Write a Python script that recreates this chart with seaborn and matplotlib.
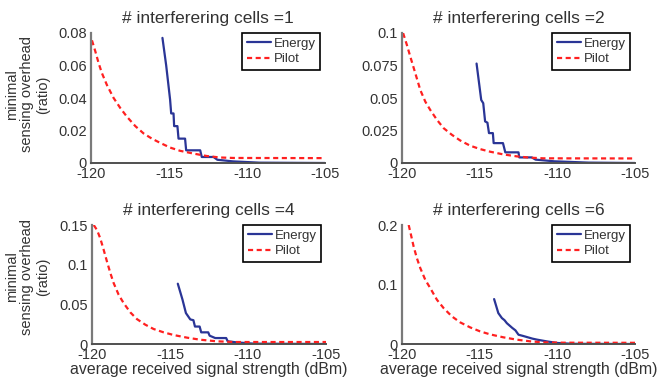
import numpy as np
import pandas as pd
import seaborn as sns
import matplotlib.pyplot as plt

# number of interfering cells per panel
cells = [1, 2, 4, 6]

# Pilot curves (x in dBm, y ratio)
pilot_x1 = [-119.94, -119.72, -119.51, -119.30, -118.98, -118.55, -118.12, -117.70, -117.16, -116.63,
            -116.10, -115.57, -114.93, -114.29, -113.43, -112.58, -111.73, -110.87, -105.0]
pilot_y1 = [0.0755, 0.0686, 0.0614, 0.0553, 0.0480, 0.0400, 0.0338, 0.0285, 0.0227, 0.0182,
            0.0150, 0.0124, 0.0095, 0.0075, 0.0058, 0.0043, 0.0034, 0.0031, 0.0030]
pilot_x2 = [-119.93, -119.68, -119.46, -119.14, -118.82, -118.50, -118.18, -117.75, -117.32, -116.79,
            -116.25, -115.61, -114.97, -114.33, -113.47, -112.61, -111.76, -110.90, -105.0]
pilot_y2 = [0.1000, 0.0906, 0.0816, 0.0689, 0.0561, 0.0472, 0.0408, 0.0332, 0.0268, 0.0217,
            0.0173, 0.0133, 0.0107, 0.0087, 0.0066, 0.0051, 0.0041, 0.0036, 0.0035]
pilot_x4 = [-119.89, -119.68, -119.47, -119.25, -119.04, -118.82, -118.61, -118.29, -117.97, -117.54,
            -117.12, -116.58, -116.05, -115.41, -114.76, -113.91, -113.06, -111.99, -110.92, -105.0]
pilot_y4 = [0.150, 0.1437, 0.1332, 0.1186, 0.1039, 0.0892, 0.0767, 0.0620, 0.0515, 0.0398,
            0.0314, 0.0243, 0.0189, 0.0147, 0.0113, 0.0080, 0.0054, 0.0034, 0.0025, 0.0025]
pilot_x6 = [-119.57, -119.42, -119.25, -119.04, -118.82, -118.50, -118.18, -117.75, -117.32, -116.79,
            -116.25, -115.61, -114.97, -114.33, -113.47, -112.61, -111.76, -110.90, -109.61, -105.0]
pilot_y6 = [0.200, 0.1832, 0.1637, 0.1441, 0.1274, 0.1078, 0.0939, 0.0743, 0.0603, 0.0464,
            0.0363, 0.0279, 0.0212, 0.0162, 0.0112, 0.0073, 0.0045, 0.0028, 0.0022, 0.0020]

# Energy curves (step-like)
energy_x1 = [-115.42, -115.18, -114.93, -114.86, -114.71, -114.67, -114.46, -114.39, -113.97,
             -113.9, -113.0, -112.9, -112.15, -111.9, -110.9, -109.2, -105.0]
energy_y1 = [0.077, 0.060, 0.039, 0.0305, 0.0305, 0.0227, 0.0227, 0.015, 0.015,
             0.0078, 0.0078, 0.0037, 0.0037, 0.002, 0.001, 0.0002, 0.0]
energy_x2 = [-115.2, -114.9, -114.77, -114.65, -114.5, -114.4, -114.15, -114.1, -113.5,
             -113.35, -112.5, -112.45, -111.65, -111.4, -110.2, -108.0, -105.0]
energy_y2 = [0.0765, 0.0485, 0.046, 0.032, 0.031, 0.023, 0.023, 0.0153, 0.0153,
             0.0082, 0.0082, 0.0043, 0.0043, 0.0026, 0.0013, 0.0003, 0.0]
energy_x4 = [-114.5, -114.2, -113.98, -113.7, -113.5, -113.4, -113.1, -113.0, -112.55,
             -112.46, -112.1, -111.4, -111.3, -110.7, -109.6, -105.0]
energy_y4 = [0.076, 0.056, 0.039, 0.031, 0.030, 0.022, 0.022, 0.0147, 0.0147,
             0.0105, 0.0075, 0.0075, 0.0034, 0.002, 0.0004, 0.0]
energy_x6 = [-114.07, -113.8, -113.57, -113.4, -113.25, -112.9, -112.7, -112.5, -112.2, -111.96,
             -111.6, -111.3, -110.7, -110.0, -109.0, -105.0]
energy_y6 = [0.0755, 0.052, 0.0436, 0.040, 0.035, 0.027, 0.023, 0.0156, 0.0135, 0.0117,
             0.009, 0.0073, 0.0045, 0.0017, 0.0003, 0.0]

pilot_x = [pilot_x1, pilot_x2, pilot_x4, pilot_x6]
pilot_y = [pilot_y1, pilot_y2, pilot_y4, pilot_y6]
energy_x = [energy_x1, energy_x2, energy_x4, energy_x6]
energy_y = [energy_y1, energy_y2, energy_y4, energy_y6]

y_max = [0.08, 0.1, 0.15, 0.2]
y_ticks = [[0, 0.02, 0.04, 0.06, 0.08],
           [0, 0.025, 0.05, 0.075, 0.1],
           [0, 0.05, 0.1, 0.15],
           [0, 0.1, 0.2]]
y_ticklabels = [['0', '0.02', '0.04', '0.06', '0.08'],
                ['0', '0.025', '0.05', '0.075', '0.1'],
                ['0', '0.05', '0.1', '0.15'],
                ['0', '0.1', '0.2']]
x_ticks = [-120, -115, -110, -105]

sns.set_style("white")
plt.rcParams['font.family'] = ['Liberation Sans', 'DejaVu Sans']
text_col = '#333333'

fig = plt.figure(figsize=(6.71, 3.79), dpi=100)
W, H = 671, 379
boxes = [(91, 33, 325, 163), (402, 33, 635, 163), (92, 225, 326, 344), (402, 225, 635, 344)]
ylab_y = [0.527, None, 0.563, None]

for i, (l, t, r, b) in enumerate(boxes):
    ax = fig.add_axes([l / W, 1 - b / H, (r - l) / W, (b - t) / H])
    sns.lineplot(x=energy_x[i], y=energy_y[i], ax=ax, color='#2a3596', lw=1.6,
                 label='Energy', estimator=None, sort=False)
    sns.lineplot(x=pilot_x[i], y=pilot_y[i], ax=ax, color='#ff2020', lw=1.6,
                 linestyle=(0, (2.3, 1.6)), label='Pilot', estimator=None, sort=False)
    ax.set_xlim(-120, -105)
    ax.set_ylim(0, y_max[i])
    ax.set_xticks(x_ticks)
    ax.set_xticklabels([str(v) for v in x_ticks])
    ax.set_yticks(y_ticks[i])
    ax.set_yticklabels(y_ticklabels[i])
    ax.tick_params(labelsize=10.5, colors=text_col, length=2.5, width=0.8,
                   direction='in', pad=3)
    for s in ['top', 'right']:
        ax.spines[s].set_visible(False)
    ax.spines['left'].set_color('#7a7a7a')
    ax.spines['bottom'].set_color('#505050')
    ax.spines['left'].set_linewidth(1.6)
    ax.spines['bottom'].set_linewidth(1.4)
    ax.set_title('# interferering cells =%d' % cells[i], fontsize=12.5, color=text_col, pad=7)
    leg = ax.legend(loc='upper right', bbox_to_anchor=(1 - 5 / (r - l), 1.0),
                    fontsize=9.5, frameon=True, fancybox=False, framealpha=1,
                    handlelength=1.8, handletextpad=0.2, borderpad=0.35, labelspacing=0.25,
                    borderaxespad=0.0)
    leg.get_frame().set_edgecolor('black')
    leg.get_frame().set_linewidth(1.2)
    for txt in leg.get_texts():
        txt.set_color(text_col)
    if i in (0, 2):
        ax.set_ylabel('minimal\nsensing overhead\n(ratio)', fontsize=10.5, color=text_col,
                      linespacing=1.15)
        ax.yaxis.set_label_coords((50 - l) / (r - l), ylab_y[i])
    if i in (2, 3):
        ax.set_xlabel('average received signal strength (dBm)', fontsize=11.4,
                      color=text_col, labelpad=0)

plt.savefig('out.png', dpi=100)
